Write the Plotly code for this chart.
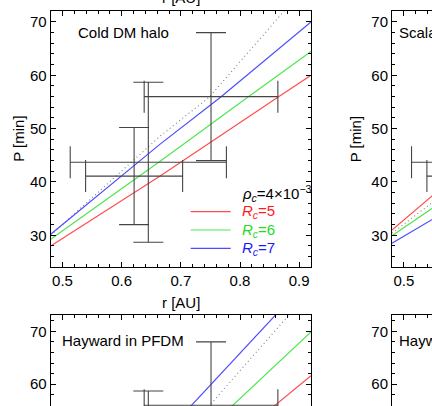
import plotly.graph_objects as go

# ---------------- data ----------------
r_obs = [0.621, 0.645, 0.751]
r_err = [0.082, 0.132, 0.113]
P_obs = [41.1, 43.7, 56.0]
P_err = [9.1, 15.0, 12.0]

# Cold DM halo panel
cdm_red_r = [0.48, 0.665, 0.864, 0.92]
cdm_red_P = [28.0, 41.1, 55.9, 60.0]
cdm_green_r = [0.48, 0.665, 0.813, 0.92]
cdm_green_P = [29.25, 43.9, 55.9, 64.45]
cdm_blue_r = [0.48, 0.665, 0.767, 0.92]
cdm_blue_P = [30.2, 47.1, 55.9, 70.0]
kep_r = [0.48, 0.665, 0.748, 0.87, 0.9]
kep_P = [30.0, 48.6, 55.9, 71.4, 75.3]

# Scalar field panel (left part only)
sf_red_r = [0.48, 0.55]
sf_red_P = [31.0, 37.6]
sf_dot_r = [0.48, 0.55]
sf_dot_P = [30.4, 36.3]
sf_green_r = [0.48, 0.55]
sf_green_P = [29.9, 35.2]
sf_blue_r = [0.48, 0.55]
sf_blue_P = [28.5, 33.1]

# Hayward in PFDM panel (top part only)
hw_red_r = [0.84, 0.92]
hw_red_P = [54.2, 61.6]
hw_green_r = [0.77, 0.92]
hw_green_P = [54.1, 69.9]
hw_blue_r = [0.70, 0.88]
hw_blue_P = [53.8, 75.5]

legend_title = "<i>ρ</i><sub><i>c</i></sub>=4×10<sup>−3</sup>"
legend_labels = ["<i>R</i><sub><i>c</i></sub>=5", "<i>R</i><sub><i>c</i></sub>=6", "<i>R</i><sub><i>c</i></sub>=7"]

RED, GREEN, BLUE = "#ff4d4d", "#4ee64e", "#4d4dff"
LRED, LGREEN, LBLUE = "#ff1a1a", "#22dd22", "#1a1aff"
DOT = "#808080"
ERR = "#444444"
FONT = "Liberation Sans"
W, H = 432, 406

def px(x):
    return x / W

def py(y):
    return 1 - y / H

fig = go.Figure()

def add_lines(xa, ya, sets):
    for r, P, col, dash in sets:
        fig.add_trace(go.Scatter(x=r, y=P, mode="lines", xaxis=xa, yaxis=ya,
                                 line=dict(color=col, width=1.1 if dash != "solid" else 1.2, dash=dash),
                                 showlegend=False, hoverinfo="skip"))

def add_err(xa, ya):
    fig.add_trace(go.Scatter(x=r_obs, y=P_obs, mode="markers", xaxis=xa, yaxis=ya,
                             marker=dict(size=0.1, color=ERR),
                             error_x=dict(type="data", array=r_err, color=ERR, thickness=1.1, width=16),
                             error_y=dict(type="data", array=P_err, color=ERR, thickness=1.1, width=15),
                             showlegend=False, hoverinfo="skip"))

DOTDASH = "1px,3px"
add_lines("x", "y", [(kep_r, kep_P, DOT, DOTDASH), (cdm_red_r, cdm_red_P, RED, "solid"),
                     (cdm_green_r, cdm_green_P, GREEN, "solid"), (cdm_blue_r, cdm_blue_P, BLUE, "solid")])
add_err("x", "y")
add_lines("x2", "y2", [(sf_dot_r, sf_dot_P, DOT, DOTDASH), (sf_red_r, sf_red_P, RED, "solid"),
                       (sf_green_r, sf_green_P, GREEN, "solid"), (sf_blue_r, sf_blue_P, BLUE, "solid")])
add_err("x2", "y2")
add_lines("x3", "y3", [(kep_r, kep_P, DOT, DOTDASH), (hw_red_r, hw_red_P, RED, "solid"),
                       (hw_green_r, hw_green_P, GREEN, "solid"), (hw_blue_r, hw_blue_P, BLUE, "solid")])
add_err("x3", "y3")
add_err("x4", "y4")

def axis(domain, rng, dtick, mdtick, anchor, **kw):
    d = dict(domain=domain, range=rng, dtick=dtick, anchor=anchor,
             ticks="inside", ticklen=5, tickwidth=1, tickcolor="black",
             showline=True, linecolor="black", linewidth=1, mirror="ticks",
             showgrid=False, zeroline=False,
             minor=dict(dtick=mdtick, ticks="inside", ticklen=3, tickwidth=1, tickcolor="black", showgrid=False),
             tickfont=dict(family=FONT, size=15, color="black"))
    d.update(kw)
    return d

xl = [px(50.7), px(311)]
xr = [px(392), 1.0]
yt = [py(267.3), py(11.3)]
yb = [0.0, py(315)]
XR_L = [0.48, 0.92]
XR_R = [0.48, 0.5476]
YR_T = [24, 72]
YR_B = [55.85, 73.1]

fig.update_layout(
    width=W, height=H, margin=dict(l=0, r=0, t=0, b=0),
    paper_bgcolor="white", plot_bgcolor="white", showlegend=False,
    xaxis=axis(xl, XR_L, 0.1, 0.02, "y", tickformat=".1f"),
    yaxis=axis(yt, YR_T, 10, 2, "x"),
    xaxis2=axis(xr, XR_R, 0.1, 0.02, "y2", tickformat=".1f"),
    yaxis2=axis(yt, YR_T, 10, 2, "x2", mirror=False),
    xaxis3=axis(xl, XR_L, 0.1, 0.02, "y3", side="top", showticklabels=False, mirror=False),
    yaxis3=axis(yb, YR_B, 10, 2, "x3"),
    xaxis4=axis(xr, XR_R, 0.1, 0.02, "y4", side="top", showticklabels=False, mirror=False),
    yaxis4=axis(yb, YR_B, 10, 2, "x4", mirror=False),
)

ann = []
def text(x, y, s, size=15, color="black", xanchor="left", angle=0):
    ann.append(dict(x=px(x), y=py(y), xref="paper", yref="paper", text=s, showarrow=False,
                    xanchor=xanchor, yanchor="middle", textangle=angle,
                    font=dict(family=FONT, size=size, color=color)))

text(76, 33, "Cold DM halo")
text(397, 33, "Scalar field DM")
text(60, 340, "Hayward in PFDM")
text(397, 340, "Hayward")
text(18.5, 139.3, "P [min]", xanchor="center", angle=-90)
text(355, 139.3, "P [min]", xanchor="center", angle=-90)
text(181, 302, "r [AU]", xanchor="center")
text(181, -2, "r [AU]", xanchor="center")

# legend
text(240, 193.3, legend_title)
leg_cols = [RED, GREEN, BLUE]
leg_tcols = [LRED, LGREEN, LBLUE]
leg_y = [211.7, 230.0, 248.3]
shapes = []
for lab, c, tc, yy in zip(legend_labels, leg_cols, leg_tcols, leg_y):
    shapes.append(dict(type="line", xref="paper", yref="paper", x0=px(190.7), x1=px(230.7),
                       y0=py(yy), y1=py(yy), line=dict(color=c, width=1.2)))
    text(240, yy, lab, color=tc)

fig.update_layout(annotations=ann, shapes=shapes)
fig.write_html("out.html")
